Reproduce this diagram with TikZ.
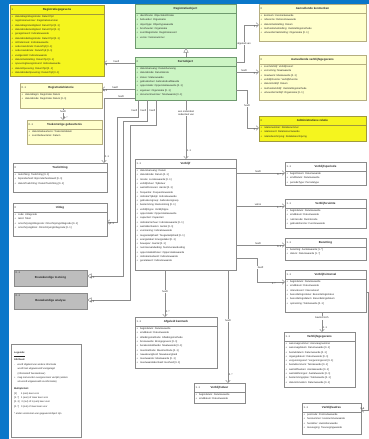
\documentclass[tikz,border=0pt]{standalone}
\usepackage{fontspec}
\setmainfont{Liberation Sans}
\usetikzlibrary{arrows.meta,calc}

\definecolor{balk}{HTML}{0A77C9}
\definecolor{felgeel}{HTML}{F5F51E}
\definecolor{felrand}{HTML}{A09A3C}
\definecolor{lichtgeel}{HTML}{FFFFCC}
\definecolor{geelrand}{HTML}{B5AE80}
\definecolor{lichtgroen}{HTML}{CCF5C4}
\definecolor{groenrand}{HTML}{6E9A6E}
\definecolor{grijs}{HTML}{BDBDBD}
\definecolor{rand}{HTML}{8A8A8A}
\definecolor{lijn}{HTML}{8C8C8C}

\newcommand{\kp}{\makebox[3.5pt][l]{+}}
% naam, x, y, breedte, hoogte, stijl, multipliciteit, titel, attributen
\newcommand{\umlklasse}[9]{%
  \node[klasse, #6, minimum width=#4pt, minimum height=#5pt, anchor=north west] (#1) at (#2,#3) {};
  \draw[#6, fill=none] (#1.north west) ++(0,9) -- ++(#4,0);
  \node[mult, anchor=west] (#1-mult) at ($(#1.north west)+(1.5,4.5)$) {#7};
  \node[titel] (#1-titel) at ($(#1.north)+(0,4.5)$) {#8};
  \node[attr, anchor=north west] (#1-attr) at ($(#1.north west)+(1.5,10.5)$) {#9};
}

\begin{document}
\begin{tikzpicture}[x=1pt, y=-1pt, text=black!85,
  klasse/.style={inner sep=0pt, outer sep=0pt, line width=0.5pt},
  felvak/.style={fill=felgeel, draw=felrand},
  geelvak/.style={fill=lichtgeel, draw=geelrand},
  groenvak/.style={fill=lichtgroen, draw=groenrand},
  witvak/.style={fill=white, draw=rand},
  grijsvak/.style={fill=grijs, draw=rand},
  titel/.style={font=\fontsize{2.9}{3.2}\selectfont\bfseries, inner sep=0pt},
  mult/.style={font=\fontsize{2.6}{3}\selectfont, inner sep=0pt},
  attr/.style={font=\fontsize{2.5}{4.3}\selectfont, inner sep=0pt, align=left},
  verb/.style={draw=lijn, line width=0.45pt},
  assoc/.style={verb, -{Straight Barb[length=2.5pt, width=4.5pt]}},
  gen/.style={verb, -{Triangle[open, length=4.5pt, width=5pt, fill=white]}},
  lbl/.style={font=\fontsize{2.5}{3}\selectfont, inner sep=0.6pt, fill=white},
  rol/.style={font=\fontsize{2.5}{3}\selectfont, inner sep=0.6pt}]

\useasboundingbox (0,0) rectangle (369,439);
\fill[white] (0,0) rectangle (369,439);
\fill[balk] (0,0) rectangle (8.5,439);
\fill[balk] (0,0) rectangle (369,3.5);

% linker kolom
\umlklasse{regGeg}{10}{5}{94}{71}{felvak}{1}{Registratiegegevens}{%
\kp datumBeginRegistratie: DatumTijd\\
\kp registratienummer: Registratienummer\\
\kp datumBeginGeldigheid: DatumTijd [0..1]\\
\kp datumEindeGeldigheid: DatumTijd [0..1]\\
\kp geregistreerd: Indicatiewaarde\\
\kp datumEindeRegistratie: DatumTijd [0..1]\\
\kp inOnderzoek: Indicatiewaarde\\
\kp onderzoekSinds: DatumTijd [0..1]\\
\kp onderzoekEinde: DatumTijd [0..1]\\
\kp vastgesteld: Indicatiewaarde\\
\kp datumVaststelling: DatumTijd [0..1]\\
\kp opvoeringGeregistreerd: Indicatiewaarde\\
\kp datumOpvoering: DatumTijd [0..1]\\
\kp datumEindeOpvoering: DatumTijd [0..1]}
\umlklasse{hist}{20}{83}{82}{25}{geelvak}{0..1}{Registratiehistorie}{%
\kp datumBegin: Registratie Datum\\
\kp datumEinde: Registratie Datum [0..1]}
\umlklasse{toek}{27}{120}{75}{24}{geelvak}{0..1}{Toekomstige gebeurtenis}{%
\kp datumGebeurtenis: Toekomstdatum\\
\kp soortGebeurtenis: Datum}
\umlklasse{toel}{13}{163}{94}{29}{witvak}{0}{Toelichting}{%
\kp toelichting: Toelichting [0..1]\\
\kp bijzonderheid: Bijzonderheidsaard [0..1]\\
\kp datumToelichting: DatumToelichting [0..1]}
\umlklasse{uitleg}{13}{203}{94}{33}{witvak}{0}{Uitleg}{%
\kp code: Uitlegcode\\
\kp tekst: Tekst\\
\kp omschrijvingUitlegcode: OmschrijvingUitlegcode [0..1]\\
\kp omschrijvingBron: OmschrijvingUitlegcode [0..1]}

\node[klasse, grijsvak, minimum width=73pt, minimum height=16pt, anchor=north west] (grijs1) at (14,270) {};
\node[mult, anchor=north west] (grijs1-mult) at ($(grijs1.north west)+(1.5,1.5)$) {0..1};
\node[titel] (grijs1-titel) at (grijs1.center) {Bouwkundige toetsing};
\node[klasse, grijsvak, minimum width=73pt, minimum height=16pt, anchor=north west] (grijs2) at (14,293) {};
\node[mult, anchor=north west] (grijs2-mult) at ($(grijs2.north west)+(1.5,1.5)$) {0..1};
\node[titel] (grijs2-titel) at (grijs2.center) {Bouwkundige analyse};

% legenda
\node[klasse, witvak, minimum width=70pt, minimum height=93pt, anchor=north west] (legenda) at (11,344) {};
\node[attr, font=\fontsize{2.4}{4.4}\selectfont, anchor=north west] (legtekst) at ($(legenda.north west)+(3,8)$) {%
\underline{\textbf{Legenda:}}\\[2.5pt]
\textbf{Attribuut:}\\
-\hspace{2.5pt}wordt afgeleid van andere informatie\\
\hspace{3.5pt}wordt niet uitgewisseld/ vastgelegd\\
\hspace{3.5pt}(informatief/ berekenbaar)\\
+\hspace{2pt}mag niet worden overgenomen/ verrijkt (anders\\
\hspace{3.5pt}als wordt uitgewisseld via informatie)\\[2.5pt]
\textbf{Multipliciteit:}\\
{[1]}\hspace{4pt}1 (een) keer voor\\
{[1..*]}\hspace{2pt}1 (een) of meer keer voor\\
{[0..1]}\hspace{2pt}0 (nul) of 1 (een) keer voor\\
{[0..*]}\hspace{2pt}0 (nul) of meer keer voor\\[3pt]
* ander voorkomen van gegevens/object zijn};

% middelste kolom
\umlklasse{regObj}{135}{4}{101}{44}{groenvak}{}{Registratieobject}{%
\kp identificatie: Objectidentificatie\\
\kp beheerder: Organisatie\\
\kp objecttype: Objecttypewaarde\\
\kp bronhouder: Organisatie\\
\kp soortRegistratie: Registratiesoort\\
\kp versie: Versienummer}
\umlklasse{kern}{135}{57}{101}{43}{groenvak}{0}{Kernobject}{%
\kp datumAanvang: DatumAanvang\\
\kp datumEinde: DatumEinde\\
\kp status: Statuswaarde\\
\kp gebruiksdoel: GebruiksdoelWaarde\\
\kp oppervlakte: Oppervlaktewaarde [0..1]\\
\kp eigenaar: Organisatie [0..1]\\
\kp documentnummer: Tekstwaarde [0..1]}
\umlklasse{verblijf}{135}{159}{101}{111}{witvak}{1..1}{Verblijf}{%
\kp datumAanvang: Datum\\
\kp datumEinde: Datum [0..1]\\
\kp locatie: Locatiewaarde [0..1]\\
\kp verblijfsduur: Tijdsduur\\
\kp aantalPersonen: Aantal [0..1]\\
\kp frequentie: Frequentiewaarde\\
\kp indicatieTijdelijk: Indicatiewaarde\\
\kp gebruikersgroep: Gebruikersgroep\\
\kp bestemming: Bestemming [0..1]\\
\kp verblijfstype: Verblijfstype\\
\kp oppervlakte: Oppervlaktewaarde\\
\kp capaciteit: Capaciteit\\
\kp indicatieVerhuur: Indicatiewaarde [0..1]\\
\kp aantalEenheden: Aantal [0..1]\\
\kp voorziening: Indicatiewaarde\\
\kp toegankelijkheid: Toegankelijkheid [0..1]\\
\kp energielabel: Energielabel [0..1]\\
\kp bouwjaar: Jaartal [0..1]\\
\kp nummeraanduiding: Nummeraanduiding\\
\kp oppervlakteWonen: Oppervlaktewaarde\\
\kp indicatieGedeeld: Indicatiewaarde\\
\kp gerelateerd: Indicatiewaarde}
\umlklasse{b1}{135}{317}{82}{51}{witvak}{1..1}{Afgeleid kenmerk}{%
\kp begindatum: Datumwaarde\\
\kp einddatum: Datumwaarde\\
\kp afleidingsmethode: Afleidingsmethode\\
\kp bronwaarde: Brongegevens [0..1]\\
\kp berekendeWaarde: Maatwaarde [0..1]\\
\kp meetmethode: Meetmethode [0..1]\\
\kp nauwkeurigheid: Nauwkeurigheid\\
\kp meetwaarde: Meetwaarde [0..1]\\
\kp meetwaardeEenheid: Eenheid [0..1]}
\umlklasse{b2}{194}{383}{51}{20}{witvak}{1..1}{Verblijfsduur}{%
\kp begindatum: Datumwaarde\\
\kp einddatum: Datumwaarde}

% rechter kolom
\umlklasse{aanv1}{259}{4}{107}{37}{geelvak}{0}{Aanvullende kenmerken}{%
\kp kenmerk: Kenmerkwaarde\\
\kp referentie: Referentiewaarde\\
\kp datumVaststelling: Datum\\
\kp methodeVaststelling: Vaststellingsmethode\\
\kp uitvoerderVaststelling: Organisatie [0..1]}
\umlklasse{aanv2}{259}{55}{107}{45}{geelvak}{0}{Aanvullende verblijfsgegevens}{%
\kp soortVerblijf: Verblijfssoort\\
\kp verruiming: Maatwaarde\\
\kp maatwerk: Maatwaarde [0..1]\\
\kp verblijfsfunctie: Verblijfsfunctie\\
\kp datumVerblijf: Datum\\
\kp methodeVerblijf: Vaststellingsmethode\\
\kp uitvoerderVerblijf: Organisatie [0..1]}
\umlklasse{relatie}{259}{116}{107}{25}{felvak}{0}{Administratieve relatie}{%
\kp relatienummer: Relatienummer\\
\kp relatiesoort: Relatiesoortwaarde\\
\kp relatiebeschrijving: Relatiebeschrijving}
\umlklasse{r1}{285}{162}{81}{23}{witvak}{1..1}{Verblijfsperiode}{%
\kp beginDatum: Datumwaarde\\
\kp eindDatum: Datumwaarde\\
\kp periodeType: Periodetype}
\umlklasse{r2}{285}{199}{81}{29}{witvak}{1..1}{Verblijfsruimte}{%
\kp begindatum: Datumwaarde\\
\kp einddatum: Datumwaarde\\
\kp ruimtecode: Ruimtecode\\
\kp gebruiksfunctie: Functiewaarde}
\umlklasse{r3}{285}{238}{81}{22}{witvak}{1..1}{Bezetting}{%
\kp bezetting: Aantalwaarde [1..*]\\
\kp datum: Datumwaarde [1..*]}
\umlklasse{r4}{285}{270}{81}{42}{witvak}{1..1}{Verblijfsinterval}{%
\kp begindatum: Datumwaarde\\
\kp einddatum: Datumwaarde\\
\kp intervalsoort: Intervalsoort\\
\kp beoordelingsstatus: Beoordelingsstatus\\
\kp beoordelingsdatum: Beoordelingsdatum\\
\kp opmerking: Tekstwaarde [0..1]}
\umlklasse{r5}{284}{332}{71}{55}{witvak}{1..1}{Verblijfsgegevens}{%
\kp aanvraagnummer: Aanvraagnummer\\
\kp aanvraagdatum: Datumwaarde [0..1]\\
\kp besluitdatum: Datumwaarde [0..1]\\
\kp ingangsdatum: Datumwaarde [0..1]\\
\kp vergunningsoort: Vergunningsoort [0..1]\\
\kp besluitkenmerk: Tekstwaarde [0..1]\\
\kp aantalPlaatsen: Aantalwaarde [0..1]\\
\kp aantalWoningen: Aantalwaarde [0..1]\\
\kp bestemmingsplan: Tekstwaarde [0..1]\\
\kp datumVervallen: Datumwaarde [0..1]}
\umlklasse{r6}{302}{403}{59}{31}{witvak}{1..1}{Verblijfsadres}{%
\kp postcode: Postcodewaarde\\
\kp huisnummer: Huisnummerwaarde\\
\kp huisletter: Huisletterwaarde\\
\kp toevoeging: Toevoegingwaarde}

% verbindingen vanuit kernobject
\draw[gen] (kern.north -| 186,0) -- (regObj.south -| 186,0);
\draw[assoc] (kern.west |- 0,63) -- node[lbl, above, pos=0.6] (l1) {heeft} node[rol, below, pos=0.92] (m1) {1} (regGeg.east |- 0,63);
\draw[assoc] (kern.west |- 0,89) -- node[lbl, above, pos=0.6] (l2) {heeft} node[rol, below, pos=0.9] (m2) {0..1} (hist.east |- 0,89);
\draw[assoc] (kern.west |- 0,98) -- node[lbl, above, pos=0.45] (l3) {heeft} (104,98) -- node[rol, right, pos=0.9] (m3) {0..1} (toel.north -| 104,0);
\draw[assoc] (hist.south -| 63,0) -- node[lbl, pos=0.3] (l4) {heeft} node[rol, right, pos=0.8] (m4) {0..*} (toek.north -| 63,0);
\draw[assoc] (kern.south -| 138,0) -- node[lbl, left, pos=0.6] (l5) {heeft} (138,117) -| (117,222) -- node[rol, below, pos=0.5] (m5) {0..1} (uitleg.east |- 0,222);
\draw[gen] (kern.south -| 147,0) -- node[lbl, left, pos=0.5] (l6) {heeft} (147,121) -| (123,276) -- node[rol, below, pos=0.85] (m6) {0..1} (grijs1.east |- 0,276);
\draw[gen] (kern.south -| 156,0) -- node[lbl, left, pos=0.42] (l7) {heeft} (156,125) -| (130,300) -- node[rol, below, pos=0.88] (m7) {0..1} (grijs2.east |- 0,300);
\draw[assoc] (kern.south -| 186,0) -- node[lbl, pos=0.22, align=center] (l8) {een onderdeel\\onderdeel van} node[rol, right, pos=0.85] (m8) {1..1} (verblijf.north -| 186,0);
\draw[assoc] (kern.east |- 0,62) -| node[lbl, pos=0.75] (l9) {afgeleid van} (244,25) -- node[rol, below, pos=0.7] (m9) {1} (aanv1.west |- 0,25);
\draw[assoc] (kern.east |- 0,72) -- node[lbl, above, pos=0.35] (l10) {heeft} node[rol, below, pos=0.8] (m10) {1} (aanv2.west |- 0,72);
\draw[assoc] (kern.east |- 0,90) -| node[lbl, pos=0.7] (l11) {heeft} (247,128) -- node[rol, below, pos=0.6] (m11) {1} (relatie.west |- 0,128);

% verbindingen vanuit verblijf
\foreach \doel/\y/\tekst/\m in {r1/173/heeft/0..*, r2/206/valt in/1..*, r3/245/heeft/0..1}
  \draw[assoc] (verblijf.east |- 0,\y) -- node[lbl, above, pos=0.45] (l-\doel) {\tekst} node[rol, below, pos=0.88] (m-\doel) {\m} (\doel.west |- 0,\y);
\draw[assoc] (verblijf.east |- 0,258) -| node[lbl, right, pos=0.7] (l-r4) {heeft} (257,282) -- node[rol, below, pos=0.6] (m-r4) {1..*} (r4.west |- 0,282);
\draw[assoc] (r4.south -| 322,0) -- node[lbl, pos=0.3] (l-r5) {bevindt zich} node[rol, right, pos=0.8] (m-r5) {1..1} (r5.north -| 322,0);
\draw[assoc] (r4.east |- 0,292) -- (368,292) |- node[rol, above, pos=0.9] (m-r6) {0..1} (r6.east |- 0,410);
\draw[assoc] (verblijf.south -| 165,0) -- node[lbl, pos=0.45] (l-b1) {heeft} node[rol, right, pos=0.88] (m-b1) {0..*} (b1.north -| 165,0);
\draw[assoc] (verblijf.south -| 228,0) -- node[lbl, pos=0.45] (l-b2) {heeft} node[rol, right, pos=0.93] (m-b2) {0..*} (b2.north -| 228,0);
\end{tikzpicture}
\end{document}
